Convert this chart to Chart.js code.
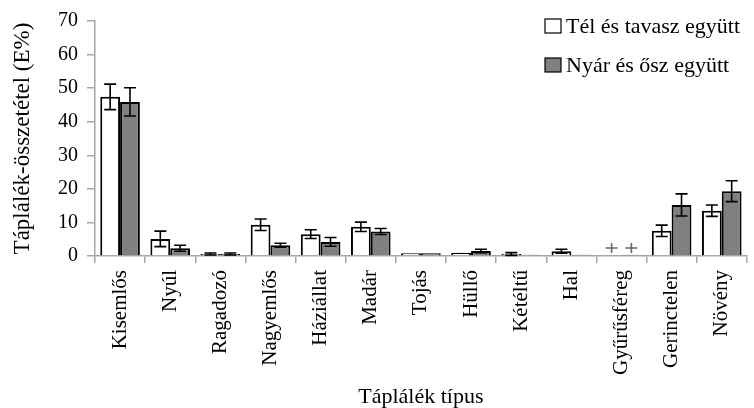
<!DOCTYPE html>
<html>
<head>
<meta charset="utf-8">
<script src="https://cdn.jsdelivr.net/npm/chart.js@4"></script>
<style>
  html, body { margin: 0; padding: 0; background: #fff; }
  #wrap { width: 754px; height: 408px; }
</style>
</head>
<body>
<div id="wrap"><canvas id="chart" width="754" height="408"></canvas></div>
<script>
const categories = ['Kisemlős', 'Nyúl', 'Ragadozó', 'Nagyemlős', 'Háziállat', 'Madár', 'Tojás',
  'Hüllő', 'Kétéltű', 'Hal', 'Gyűrűsféreg', 'Gerinctelen', 'Növény']

const winterSpring = [47.4, 5.1, 0.6, 9.3, 6.5, 8.7, 0.8, 1.0, 0.6, 1.4, 0, 7.5, 13.5]
const winterSpringErr = [3.8, 2.3, 0.3, 1.7, 1.3, 1.4, 0, 0, 0.4, 0.6, 0, 1.7, 1.7]
const summerAutumn = [45.9, 2.3, 0.6, 3.2, 4.2, 7.3, 0.8, 1.5, 0.4, 0.4, 0.4, 15.2, 19.3]
const summerAutumnErr = [4.2, 0.9, 0.3, 0.6, 1.3, 0.9, 0, 0.5, 0, 0, 0, 3.3, 3.1]
// "+" = jelen, de elhanyagolható mennyiségben
const winterTrace = [0, 0, 0, 0, 0, 0, 0, 0, 0, 0, 1, 0, 0]
const summerTrace = [0, 0, 0, 0, 0, 0, 0, 0, 0, 0, 1, 0, 0]

const yTicks = [0, 10, 20, 30, 40, 50, 60, 70]

const serif = '"Liberation Serif", "Times New Roman", serif'
const axisGray = '#a6a6a6'

const errorBars = {
  id: 'errorBars',
  afterDatasetsDraw(chart) {
    const ctx = chart.ctx
    const y = chart.scales.y
    ctx.save()
    ctx.lineWidth = 1.6
    chart.data.datasets.forEach((ds, i) => {
      const meta = chart.getDatasetMeta(i)
      meta.data.forEach((bar, j) => {
        const err = ds.errors[j]
        if (err) {
          const top = y.getPixelForValue(ds.data[j] + err)
          const bottom = y.getPixelForValue(Math.max(0, ds.data[j] - err))
          ctx.strokeStyle = '#000'
          ctx.beginPath()
          ctx.moveTo(bar.x, top); ctx.lineTo(bar.x, bottom)
          ctx.moveTo(bar.x - 6, top); ctx.lineTo(bar.x + 6, top)
          ctx.moveTo(bar.x - 6, bottom); ctx.lineTo(bar.x + 6, bottom)
          ctx.stroke()
        }
        if (ds.trace[j]) {
          const cy = y.getPixelForValue(0) - 8
          ctx.strokeStyle = '#666'
          ctx.beginPath()
          ctx.moveTo(bar.x, cy - 5); ctx.lineTo(bar.x, cy + 5)
          ctx.moveTo(bar.x - 6, cy); ctx.lineTo(bar.x + 6, cy)
          ctx.stroke()
        }
      })
    })
    ctx.restore()
  }
}

const legendBox = {
  id: 'legendBox',
  afterDraw(chart) {
    const ctx = chart.ctx
    ctx.save()
    ctx.font = '22px ' + serif
    ctx.textBaseline = 'alphabetic'
    chart.data.datasets.forEach((ds, i) => {
      const base = 33 + i * 39
      ctx.fillStyle = ds.backgroundColor
      ctx.fillRect(545, base - 14, 16, 14)
      ctx.strokeStyle = '#000'
      ctx.lineWidth = 1.2
      ctx.strokeRect(545, base - 14, 16, 14)
      ctx.fillStyle = '#000'
      ctx.fillText(ds.label, 566, base)
    })
    ctx.restore()
  }
}

new Chart(document.getElementById('chart').getContext('2d'), {
  type: 'bar',
  data: {
    labels: categories,
    datasets: [{
      label: 'Tél és tavasz együtt',
      data: winterSpring,
      errors: winterSpringErr,
      trace: winterTrace,
      backgroundColor: '#ffffff',
      borderColor: '#000',
      borderWidth: 2,
      categoryPercentage: 0.79,
      barPercentage: 1
    }, {
      label: 'Nyár és ősz együtt',
      data: summerAutumn,
      errors: summerAutumnErr,
      trace: summerTrace,
      backgroundColor: '#808080',
      borderColor: '#000',
      borderWidth: 2,
      categoryPercentage: 0.79,
      barPercentage: 1
    }]
  },
  options: {
    responsive: false,
    animation: false,
    layout: { padding: { top: 14, right: 1, left: 0, bottom: 0 } },
    plugins: {
      legend: { display: false },
      tooltip: { enabled: false }
    },
    scales: {
      y: {
        min: 0,
        max: 70,
        afterBuildTicks(scale) {
          scale.ticks = yTicks.map(v => ({ value: v }))
        },
        afterFit(scale) { scale.width = 95 },
        border: { color: axisGray, width: 1.5 },
        grid: { drawOnChartArea: false, color: axisGray, tickLength: 8, lineWidth: 1.5 },
        ticks: { color: '#000', padding: 9, font: { family: serif, size: 20 } },
        title: {
          display: true,
          text: 'Táplálék-összetétel (E%)',
          color: '#000',
          font: { family: serif, size: 23, lineHeight: 1.2 },
          padding: { top: 9, bottom: 0 }
        }
      },
      x: {
        afterFit(scale) { scale.height = 152 },
        border: { color: axisGray, width: 1.5 },
        grid: { drawOnChartArea: false, color: axisGray, tickLength: 7, lineWidth: 1.5 },
        ticks: {
          color: '#000',
          padding: 7,
          minRotation: 90,
          maxRotation: 90,
          autoSkip: false,
          font: { family: serif, size: 21 }
        },
        title: {
          display: true,
          text: 'Táplálék típus',
          color: '#000',
          font: { family: serif, size: 22, lineHeight: 1 },
          padding: { top: 0, bottom: 0 }
        }
      }
    }
  },
  plugins: [errorBars, legendBox]
})
</script>
</body>
</html>
